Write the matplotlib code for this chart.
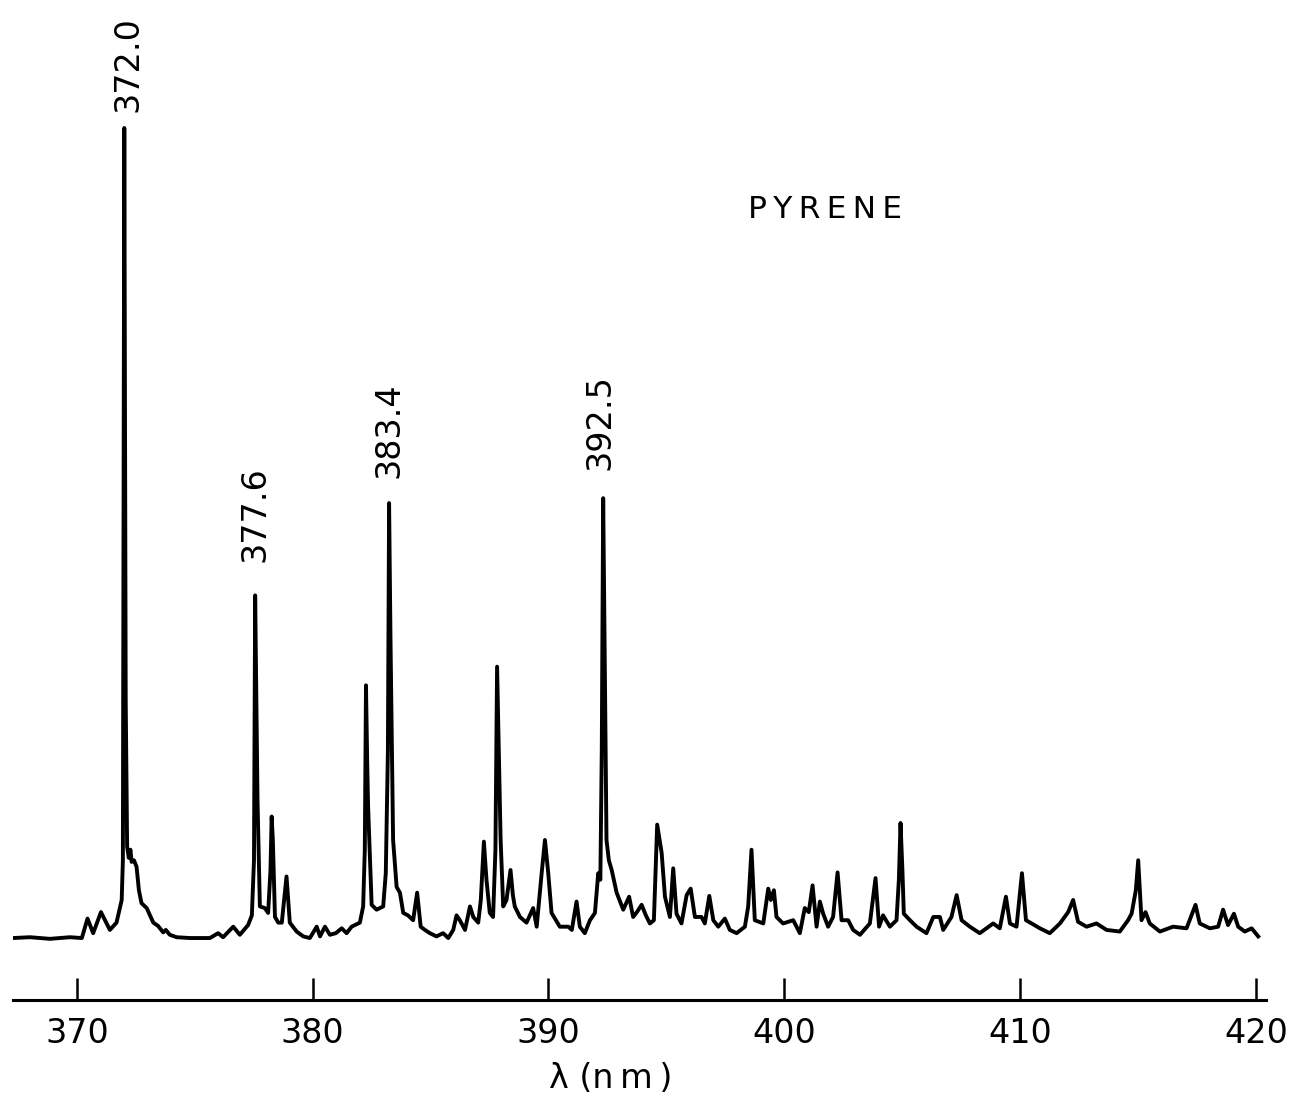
import numpy as np
import matplotlib
matplotlib.use("Agg")
import matplotlib.pyplot as plt

WAVELENGTH = [
    367.29, 368.01, 368.86, 369.70, 370.21, 370.45, 370.69, 371.02, 371.40, 371.68,
    371.90, 371.95, 372.01, 372.07, 372.13, 372.20, 372.27, 372.32, 372.42, 372.53,
    372.63, 372.74, 372.96, 373.24, 373.44, 373.66, 373.77, 373.94, 374.23, 374.79,
    375.64, 375.99, 376.20, 376.63, 376.91, 377.26, 377.42, 377.51, 377.56, 377.61,
    377.66, 377.76, 377.97, 378.11, 378.21, 378.26, 378.31, 378.40, 378.54, 378.69,
    378.89, 379.03, 379.32, 379.60, 379.88, 380.17, 380.31, 380.52, 380.73, 380.98,
    381.23, 381.44, 381.65, 382.00, 382.14, 382.21, 382.26, 382.31, 382.35, 382.50,
    382.71, 382.99, 383.10, 383.19, 383.24, 383.30, 383.41, 383.56, 383.70, 383.84,
    384.04, 384.26, 384.43, 384.58, 384.76, 384.97, 385.25, 385.53, 385.75, 385.96,
    386.10, 386.24, 386.46, 386.67, 386.81, 387.02, 387.13, 387.26, 387.37, 387.51,
    387.65, 387.75, 387.82, 387.90, 387.97, 388.08, 388.22, 388.39, 388.49, 388.57,
    388.79, 389.07, 389.35, 389.50, 389.71, 389.85, 389.99, 390.13, 390.48, 390.84,
    390.99, 391.19, 391.33, 391.54, 391.76, 391.97, 392.11, 392.20, 392.26, 392.32,
    392.38, 392.46, 392.56, 392.68, 392.89, 393.17, 393.42, 393.59, 393.75, 393.95,
    394.13, 394.30, 394.47, 394.61, 394.80, 394.94, 395.15, 395.29, 395.43, 395.64,
    395.86, 396.03, 396.21, 396.49, 396.63, 396.82, 396.99, 397.20, 397.48, 397.69,
    397.98, 398.33, 398.47, 398.61, 398.75, 399.11, 399.32, 399.43, 399.56, 399.67,
    399.95, 400.38, 400.66, 400.87, 401.04, 401.20, 401.37, 401.51, 401.65, 401.86,
    402.07, 402.26, 402.43, 402.71, 402.92, 403.21, 403.63, 403.87, 404.02, 404.19,
    404.48, 404.76, 404.86, 404.93, 405.01, 405.07, 405.33, 405.61, 406.03, 406.32,
    406.60, 406.74, 407.09, 407.31, 407.52, 407.87, 408.29, 408.86, 409.14, 409.40,
    409.57, 409.85, 410.08, 410.25, 410.49, 410.84, 411.26, 411.69, 412.04, 412.25,
    412.46, 412.82, 413.24, 413.67, 414.23, 414.58, 414.73, 414.91, 415.01, 415.08,
    415.15, 415.32, 415.50, 415.93, 416.49, 417.06, 417.44, 417.62, 418.05, 418.40,
    418.61, 418.82, 419.07, 419.25, 419.53, 419.82, 420.10,
]
INTENSITY = [
    0.0, 0.1, -0.1, 0.1, 0.0, 2.4, 0.6, 3.2, 1.0, 1.9,
    4.7, 9.6, 100.0, 29.4, 11.3, 9.9, 10.9, 9.4, 9.6, 8.8,
    5.9, 4.3, 3.7, 1.9, 1.5, 0.7, 1.0, 0.4, 0.1, 0.0,
    0.0, 0.6, 0.1, 1.4, 0.4, 1.6, 2.8, 9.6, 42.3, 29.4,
    17.0, 3.9, 3.7, 3.1, 8.4, 15.0, 12.1, 2.6, 1.9, 1.9,
    7.6, 1.9, 0.8, 0.2, 0.0, 1.4, 0.2, 1.4, 0.4, 0.6,
    1.2, 0.6, 1.4, 1.9, 3.9, 10.9, 31.2, 22.0, 16.2, 4.1,
    3.5, 3.9, 8.0, 23.2, 53.7, 36.8, 12.1, 6.3, 5.6, 3.1,
    2.8, 2.2, 5.6, 1.4, 1.0, 0.6, 0.2, 0.6, 0.0, 1.0,
    2.8, 2.2, 1.0, 3.9, 2.6, 1.9, 4.7, 11.9, 7.2, 3.1,
    2.6, 10.9, 33.5, 22.0, 12.1, 3.9, 4.7, 8.4, 5.3, 3.9,
    2.6, 1.9, 3.7, 1.4, 8.0, 12.1, 8.0, 3.1, 1.4, 1.4,
    1.0, 4.5, 1.4, 0.6, 2.2, 3.1, 8.0, 7.2, 23.2, 54.3,
    35.6, 12.1, 9.6, 8.4, 5.6, 3.5, 5.1, 2.6, 3.2, 4.1,
    2.8, 1.8, 2.2, 14.0, 10.5, 5.1, 2.6, 8.6, 3.0, 1.8,
    5.3, 6.1, 2.6, 2.6, 1.8, 5.2, 2.2, 1.4, 2.4, 1.0,
    0.6, 1.4, 3.9, 10.9, 2.2, 1.8, 6.1, 4.7, 5.9, 2.6,
    1.8, 2.2, 0.6, 3.7, 3.2, 6.5, 1.4, 4.5, 3.0, 1.4,
    2.6, 8.1, 2.2, 2.2, 1.0, 0.4, 1.8, 7.4, 1.4, 2.8,
    1.4, 2.2, 7.2, 14.2, 8.4, 3.0, 2.2, 1.4, 0.6, 2.6,
    2.6, 1.0, 2.6, 5.3, 2.2, 1.4, 0.6, 1.8, 1.2, 5.1,
    1.8, 1.4, 8.0, 2.2, 1.8, 1.2, 0.6, 1.8, 3.2, 4.7,
    2.0, 1.4, 1.8, 1.0, 0.8, 2.2, 3.0, 5.9, 9.6, 5.9,
    2.2, 3.2, 1.8, 0.8, 1.4, 1.2, 4.1, 1.8, 1.2, 1.4,
    3.5, 1.6, 3.0, 1.4, 0.8, 1.2, 0.2,
]

PEAK_LABELS = ["372.0", "377.6", "383.4", "392.5"]
X_TICKS = [370, 380, 390, 400, 410, 420]
TITLE = "P\u2009Y\u2009R\u2009E\u2009N\u2009E"
X_LABEL = "λ (n\u2009m\u2009)"

# Abstand Beschriftung -> Peakspitze (Punkte), per Auge angepasst
LABEL_OFFSETS = [(2.3, 11.5), (0, 24), (0, 18), (-2.4, 20)]


def plot_spectrum():
    wl = np.array(WAVELENGTH)
    inten = np.array(INTENSITY)

    fig = plt.figure(figsize=(12.99, 10.97), dpi=100)
    ax = fig.add_axes([13 / 1299, 97 / 1097, 1253 / 1299, 1000 / 1097])

    ax.plot(wl, inten, color='black', linewidth=2.8, solid_joinstyle='round')

    ax.set_xlim(367.29, 420.43)
    ax.set_ylim(-7.65, 115.8)

    for side in ['left', 'right', 'top']:
        ax.spines[side].set_visible(False)
    ax.spines['bottom'].set_linewidth(2.2)
    ax.set_yticks([])
    ax.set_xticks(X_TICKS)
    ax.set_xticklabels([str(t) for t in X_TICKS])
    ax.tick_params(axis='x', direction='in', length=16, width=1.8, pad=12,
                   labelsize=24)

    # Peak-Beschriftungen an den Maxima
    for label, (dx, dy) in zip(PEAK_LABELS, LABEL_OFFSETS):
        target = float(label)
        mask = np.abs(wl - target) < 0.4
        idx = np.where(mask)[0][np.argmax(inten[mask])]
        ax.annotate(label, xy=(wl[idx], inten[idx]), xytext=(dx, dy),
                    textcoords='offset points', rotation=90,
                    ha='center', va='bottom', fontsize=24)

    ax.text(0.648, 0.791, TITLE, transform=ax.transAxes, ha='center',
            va='center', fontsize=22.5)

    ax.set_xlabel(X_LABEL, fontsize=24)
    ax.xaxis.set_label_coords(0.477, -0.062)

    fig.savefig("out.png", dpi=100, facecolor='white')


if __name__ == '__main__':
    plot_spectrum()
